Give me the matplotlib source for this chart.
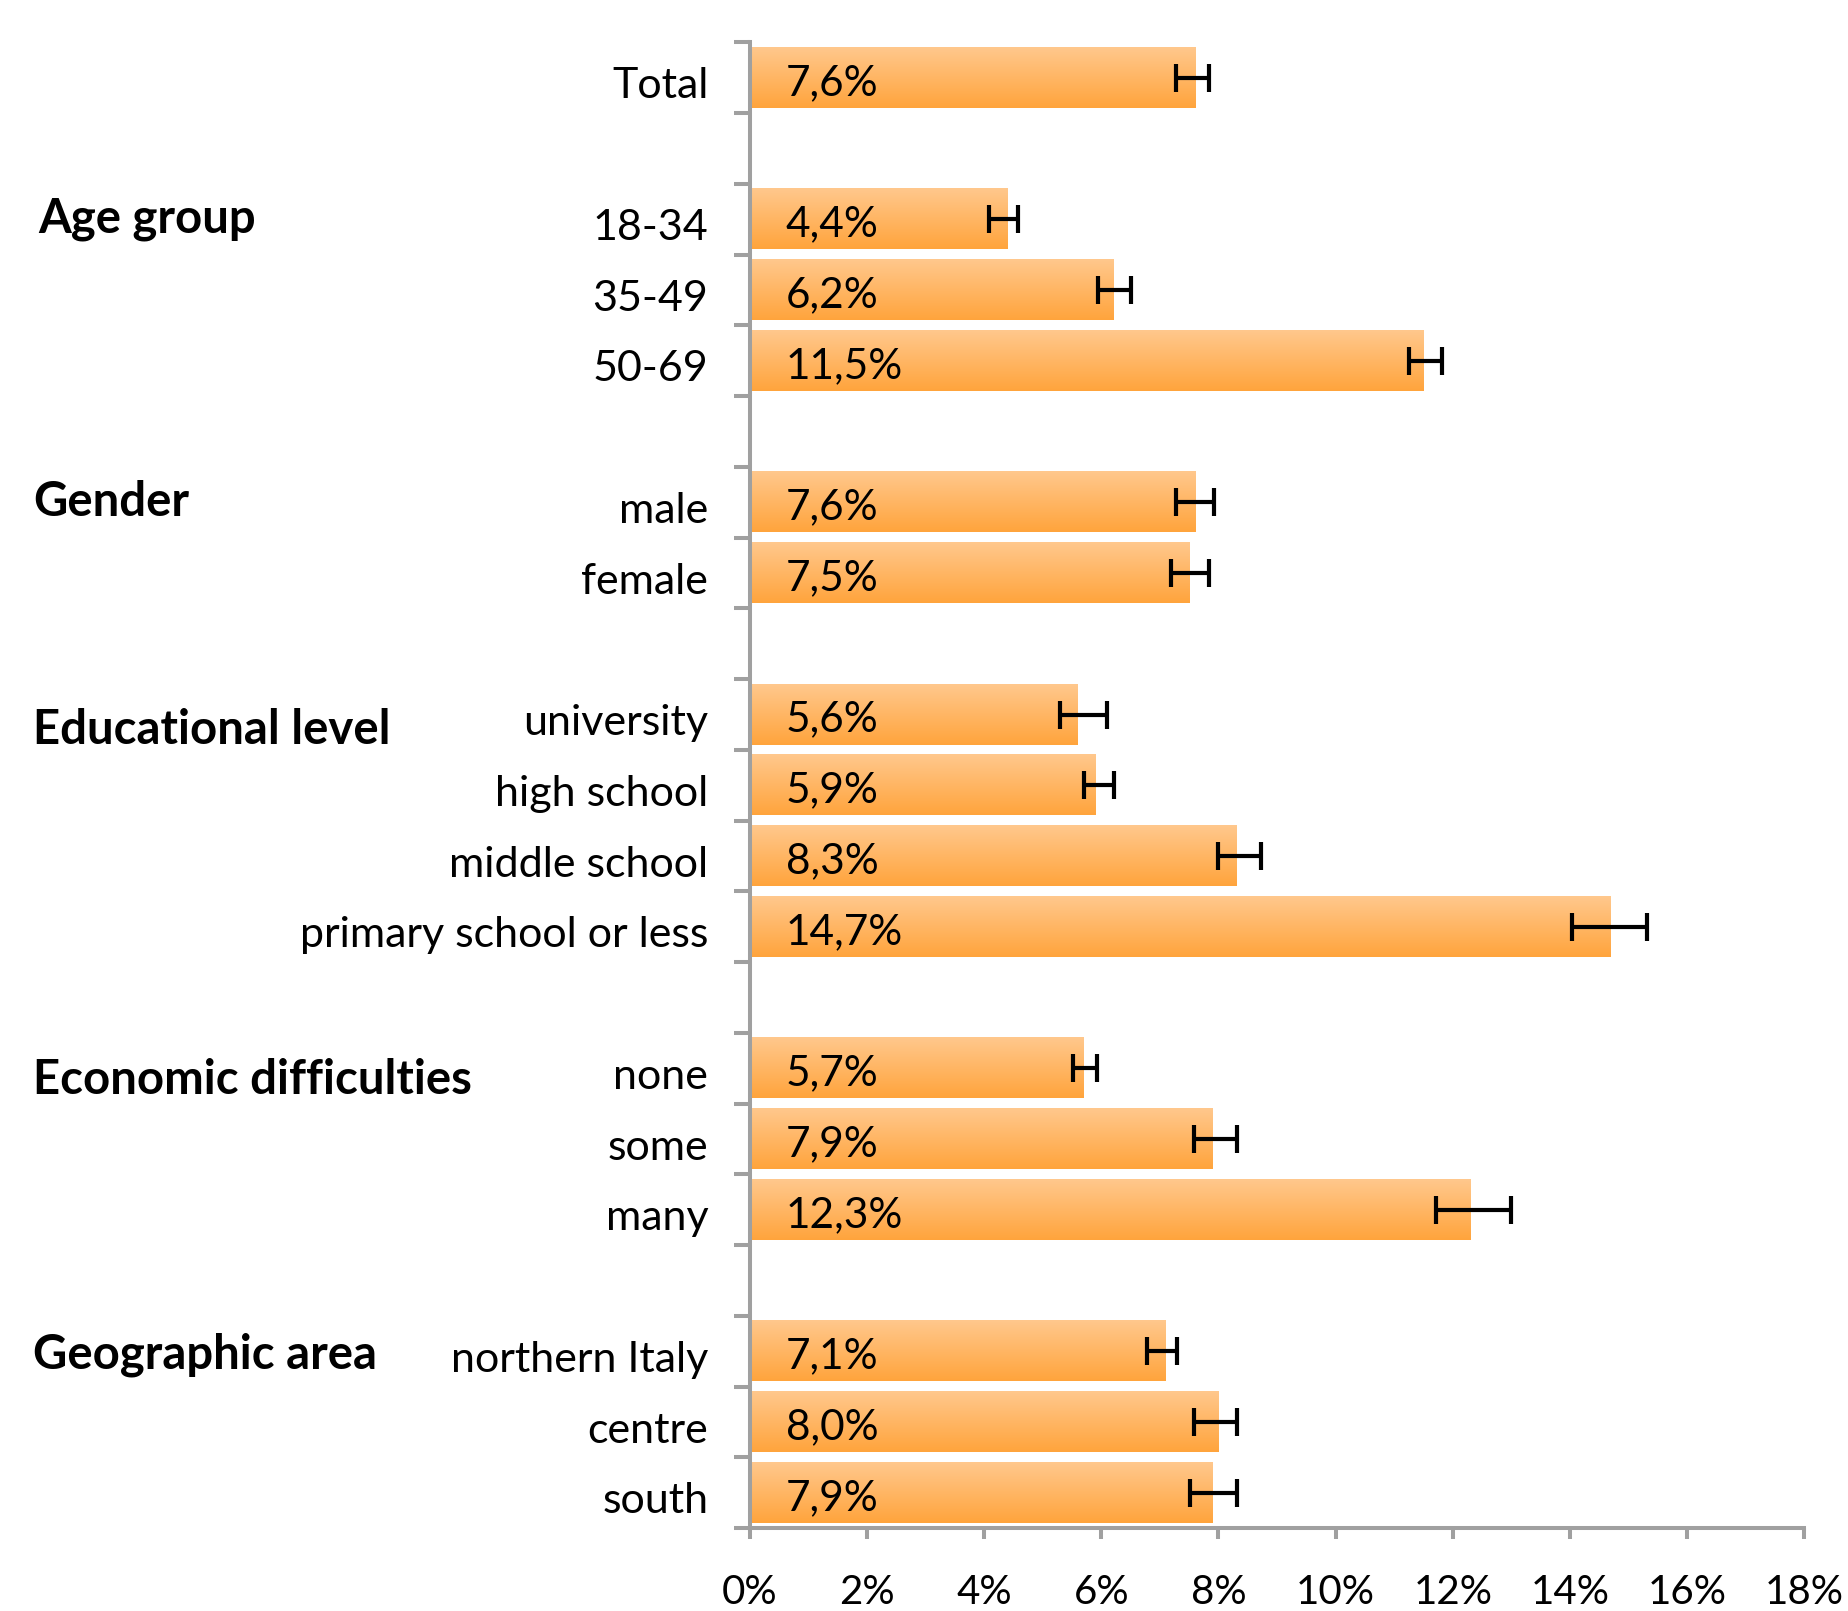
import numpy as np
import matplotlib.pyplot as plt
from matplotlib.colors import LinearSegmentedColormap
from matplotlib.ticker import FuncFormatter, MultipleLocator
import matplotlib.transforms as mtransforms

# Row labels from top to bottom ('' = blank spacer row)
labels = ['Total', '',
          '18-34', '35-49', '50-69', '',
          'male', 'female', '',
          'university', 'high school', 'middle school', 'primary school or less', '',
          'none', 'some', 'many', '',
          'northern Italy', 'centre', 'south']

values = [7.6, np.nan,
          4.4, 6.2, 11.5, np.nan,
          7.6, 7.5, np.nan,
          5.6, 5.9, 8.3, 14.7, np.nan,
          5.7, 7.9, 12.3, np.nan,
          7.1, 8.0, 7.9]

# confidence interval bounds
ci_low = [7.27, np.nan,
          4.09, 5.94, 11.25, np.nan,
          7.27, 7.19, np.nan,
          5.29, 5.70, 7.99, 14.03, np.nan,
          5.52, 7.59, 11.72, np.nan,
          6.78, 7.59, 7.51]
ci_high = [7.83, np.nan,
           4.57, 6.50, 11.82, np.nan,
           7.93, 7.83, np.nan,
           6.10, 6.22, 8.72, 15.32, np.nan,
           5.92, 8.31, 13.00, np.nan,
           7.29, 8.31, 8.31]

groups = ['Age group', 'Gender', 'Educational level', 'Economic difficulties', 'Geographic area']
group_rows = [2.0, 6.0, 9.22, 14.17, 18.05]
group_x = [0.0205, 0.018, 0.018, 0.018, 0.018]

plt.rcParams['font.family'] = ['Lato', 'DejaVu Sans']

fig = plt.figure(figsize=(18.48, 16.11), dpi=100)
ax = fig.add_axes([0.4058, 0.0514, 0.5705, 0.9223])

rows = np.arange(len(labels))
vals = np.array(values, dtype=float)
lo = np.array(ci_low, dtype=float)
hi = np.array(ci_high, dtype=float)

# small downward shift so text sits like the original
shift = mtransforms.ScaledTranslation(0, -5 / 100, fig.dpi_scale_trans)

# bars with a vertical gradient
grad = LinearSegmentedColormap.from_list('bar', ['#FFC88D', '#FFA43C'])
bar_h = 0.85
g = np.linspace(0, 1, 256).reshape(-1, 1)
for r, v in zip(rows, vals):
    if np.isnan(v):
        continue
    ax.imshow(g, cmap=grad, aspect='auto', interpolation='bicubic',
              extent=(0, v, r + bar_h / 2, r - bar_h / 2), zorder=2)
    ax.annotate(f'{v:.1f}%'.replace('.', ','), xy=(0, r), xytext=(36, -5),
                textcoords='offset pixels', va='center', ha='left',
                fontsize=30.5, color='black', zorder=4)

mask = ~np.isnan(vals)
ax.errorbar(vals[mask], rows[mask],
            xerr=[vals[mask] - lo[mask], hi[mask] - vals[mask]],
            fmt='none', ecolor='black', elinewidth=3.0, capsize=10,
            capthick=3.0, zorder=3)

ax.set_xlim(0, 18)
ax.set_ylim(len(labels) - 0.5, -0.5)

axis_col = '#A0A0A0'
for s in ['top', 'right']:
    ax.spines[s].set_visible(False)
for s in ['left', 'bottom']:
    ax.spines[s].set_color(axis_col)
    ax.spines[s].set_linewidth(2.9)

ax.set_yticks(rows)
ax.set_yticklabels(labels)
ax.set_yticks(np.arange(-0.5, len(labels)), minor=True)
ax.tick_params(axis='y', which='major', length=0, pad=30, labelsize=31)
ax.tick_params(axis='y', which='minor', length=11.5, width=2.9, color=axis_col)
for lab in ax.get_yticklabels():
    lab.set_transform(lab.get_transform() + shift)

ax.xaxis.set_major_locator(MultipleLocator(2))
ax.xaxis.set_major_formatter(FuncFormatter(lambda x, p: f'{x:.0f}%'))
ax.tick_params(axis='x', length=8, width=2.9, color=axis_col, pad=25, labelsize=29)

# group headings on the far left
trans = mtransforms.blended_transform_factory(fig.transFigure, ax.transData)
for name, r, gx in zip(groups, group_rows, group_x):
    ax.text(gx, r, name, transform=trans, ha='left', va='center',
            fontsize=34, fontweight='bold', color='black')

fig.savefig('out.png', dpi=100)
